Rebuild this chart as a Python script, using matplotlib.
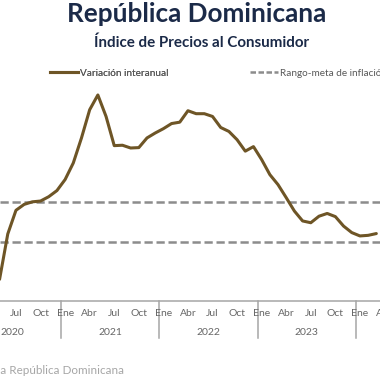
import matplotlib
matplotlib.use("Agg")
import matplotlib.pyplot as plt
import matplotlib.transforms as mtransforms
from matplotlib.lines import Line2D

# datos: variacion interanual del IPC (%), desde mayo 2020
first_month = 4  # indice de mes, ene 2020 = 0
inflacion = [1.1, 3.4, 4.6, 4.9, 5.03, 5.07, 5.29, 5.6,
             6.16, 7.0, 8.27, 9.7, 10.45, 9.36, 7.88, 7.9, 7.76, 7.78, 8.27, 8.52,
             8.74, 9.0, 9.07, 9.65, 9.5, 9.5, 9.36, 8.8, 8.6, 8.18, 7.6, 7.83,
             7.17, 6.41, 5.9, 5.24, 4.56, 4.06, 3.97, 4.3, 4.44, 4.28, 3.8, 3.47,
             3.3, 3.33, 3.42]
meta_inferior = 3.0
meta_superior = 5.0
mes_labels = ["Ene", "Abr", "Jul", "Oct"]
anios = [2020, 2021, 2022, 2023, 2024]

brown = "#6e5526"
gray_dash = "#8c8c8c"
txt_gray = "#666666"
navy = "#1b2a48"

fig = plt.figure(figsize=(3.8, 3.8), dpi=100)
H = 380.0
ax_bottom_px, ax_top_px = 301.0, 64.4
ax = fig.add_axes([0, (H - ax_bottom_px) / H, 1, (ax_bottom_px - ax_top_px) / H])
ax_h = ax_bottom_px - ax_top_px


def ypx(py):
    # pixel y (desde arriba) -> fraccion de ejes
    return (ax_bottom_px - py) / ax_h


x = list(range(first_month, first_month + len(inflacion)))
ax.axhline(meta_superior, color=gray_dash, lw=1.8, dashes=(3.3, 1.5), zorder=1)
ax.axhline(meta_inferior, color=gray_dash, lw=1.8, dashes=(3.3, 1.5), zorder=1)
ax.plot(x, inflacion, color=brown, lw=2.2, solid_joinstyle="round",
        solid_capstyle="round", zorder=3)

x0, x1 = 12 - 65.1 / 8.19, 12 + (380 - 65.1) / 8.19
ax.set_xlim(x0, x1)
ax.set_ylim(0, 12)
for s in ["top", "left", "right"]:
    ax.spines[s].set_visible(False)
ax.spines["bottom"].set_color("#a6a6a6")
ax.spines["bottom"].set_linewidth(1.1)
ax.set_xticks([])
ax.set_yticks([])

trans = mtransforms.blended_transform_factory(ax.transData, ax.transAxes)
for i, anio in enumerate(anios):
    base = i * 12
    for j, lab in enumerate(mes_labels):
        m = base + j * 3
        if m < first_month or m > x1 + 1:
            continue
        ax.text(m, ypx(314), lab, transform=trans, ha="center",
                va="center", fontsize=7.5, color=txt_gray, family="Lato",
                clip_on=False)
    if base + 5.5 < x1:
        ax.text(base + 5.5, ypx(332.5), str(anio), transform=trans, ha="center",
                va="center", fontsize=7.5, color=txt_gray, family="Lato",
                clip_on=False)
    if i > 0:
        ax.plot([base - 0.5, base - 0.5], [0, ypx(338)], transform=trans,
                color="#a6a6a6", lw=1.1, clip_on=False)

# leyenda
h1 = Line2D([], [], color=brown, lw=2.2)
h2 = Line2D([], [], color=gray_dash, lw=1.8, dashes=(2.2, 1.0))
leg_kw = dict(loc="center left", frameon=False, borderpad=0, borderaxespad=0,
              handlelength=2.8, handletextpad=0.2,
              prop={"family": "Lato", "size": 7.2}, labelcolor="#595959")
leg1 = fig.legend([h1], ["Variación interanual"],
                  bbox_to_anchor=(50 / H, 1 - 73 / H), **leg_kw)
leg2 = fig.legend([h2], ["Rango-meta de inflación"],
                  bbox_to_anchor=(250 / H, 1 - 73 / H), **leg_kw)
fig.add_artist(leg1)

fig.text(197 / H, 1 - 14 / H, "República Dominicana", ha="center", va="center",
         fontsize=18.8, fontweight="bold", color=navy, family="Lato")
fig.text(202 / H, 1 - 43 / H, "Índice de Precios al Consumidor", ha="center",
         va="center", fontsize=10.9, fontweight="bold", color=navy, family="Lato")
fig.text(124 / H, 1 - 370 / H, "Fuente: Banco Central de la República Dominicana",
         ha="right", va="center", fontsize=8.4, color="#a6a6a6", family="Lato")

fig.savefig("out.png", dpi=100)
